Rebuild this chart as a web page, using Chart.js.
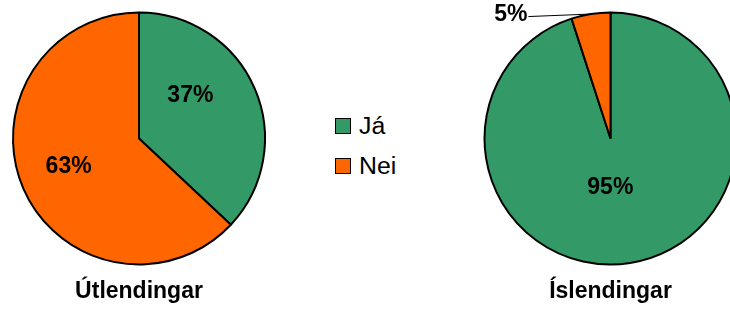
<!DOCTYPE html>
<html>
<head>
<meta charset="utf-8">
<script src="https://cdn.jsdelivr.net/npm/chart.js@4/dist/chart.umd.min.js"></script>
<style>
    html, body { margin: 0; padding: 0; background: #fff; overflow: hidden; width: 730px; height: 311px; }
    #wrap { position: relative; width: 730px; height: 311px; }
    canvas { position: absolute; top: 0; }
    #leftChart { left: 0; }
    #rightChart { left: 482px; }
    #legend { position: absolute; left: 335px; top: 116px; font-family: "Liberation Sans", Arial, sans-serif; font-size: 23px; color: #000; }
    .row { display: flex; align-items: center; height: 20px; line-height: 20px; margin-bottom: 20px; }
    .box { width: 14px; height: 14px; border: 1px solid #000; }
    .txt { margin-left: 8px; white-space: nowrap; display: inline-block; transform: scaleX(1.08); transform-origin: left center; }
</style>
</head>
<body>
<div id="wrap">
    <canvas id="leftChart" width="287" height="311"></canvas>
    <canvas id="rightChart" width="273" height="311"></canvas>
    <div id="legend"></div>
</div>
<script>
// answer categories
var answerLabels = ['Já', 'Nei'];
// one pie per group
var groupTitles = ['Útlendingar', 'Íslendingar'];
var foreignValues = [37, 63];
var icelandicValues = [95, 5];
var sliceColors = ['#339966', '#FF6600'];

// shift of each percentage label from its default spot (px)
var foreignLabelNudge = [[-18, -13], [-1, -2]];
var icelandicLabelNudge = [[-12, -26], [-80, 1]];

var FONT = '"Liberation Sans", Arial, sans-serif';

// draws the "37%" style labels, small slices get an outside label with a leader line
var pctLabels = {
    id: 'pctLabels',
    afterDatasetsDraw: function (chart) {
        var ctx = chart.ctx;
        var ds = chart.data.datasets[0];
        var total = ds.data.reduce(function (a, b) { return a + b; }, 0);
        var nudge = chart.options.plugins.pctLabels.nudge;
        chart.getDatasetMeta(0).data.forEach(function (arc, i) {
            var p = arc.getProps(['x', 'y', 'startAngle', 'endAngle', 'outerRadius'], true);
            var mid = (p.startAngle + p.endAngle) / 2;
            var pct = Math.round(ds.data[i] / total * 100);
            var text = pct + '%';
            ctx.save();
            ctx.font = 'bold 23px ' + FONT;
            ctx.fillStyle = '#000';
            ctx.textAlign = 'center';
            ctx.textBaseline = 'middle';
            if (pct < 10) {
                var ex = p.x + Math.cos(mid) * p.outerRadius;
                var ey = p.y + Math.sin(mid) * p.outerRadius;
                var lx = ex + nudge[i][0];
                var ly = ey + nudge[i][1];
                var w = ctx.measureText(text).width;
                ctx.strokeStyle = '#000';
                ctx.lineWidth = 1;
                ctx.beginPath();
                ctx.moveTo(lx + w / 2 + 1, ly + 1.5);
                ctx.lineTo(ex, ey);
                ctx.stroke();
                ctx.fillText(text, lx, ly);
            } else {
                var r = p.outerRadius * 0.6;
                ctx.fillText(text, p.x + Math.cos(mid) * r + nudge[i][0], p.y + Math.sin(mid) * r + nudge[i][1]);
            }
            ctx.restore();
        });
    }
};

function makePie(canvasId, values, title, nudge, padLeft, padRight) {
    var ctx = document.getElementById(canvasId).getContext('2d');
    return new Chart(ctx, {
        type: 'pie',
        data: {
            labels: answerLabels,
            datasets: [{
                data: values,
                backgroundColor: sliceColors,
                borderColor: '#000',
                borderWidth: 2,
                radius: 126
            }]
        },
        options: {
            responsive: false,
            animation: false,
            layout: { padding: { left: padLeft, right: padRight, top: 0, bottom: 0 } },
            plugins: {
                legend: { display: false },
                tooltip: { enabled: false },
                title: {
                    display: true,
                    text: title,
                    position: 'bottom',
                    color: '#000',
                    font: { family: FONT, size: 23, weight: 'bold', lineHeight: 1.2 },
                    padding: { top: 0.7, bottom: 5.7 }
                },
                pctLabels: { nudge: nudge }
            }
        },
        plugins: [pctLabels]
    });
}

makePie('leftChart', foreignValues, groupTitles[0], foreignLabelNudge, 0, 9);
makePie('rightChart', icelandicValues, groupTitles[1], icelandicLabelNudge, 1, 17);

// legend built from the same categories and colours
var legend = document.getElementById('legend');
answerLabels.forEach(function (lab, i) {
    var row = document.createElement('div');
    row.className = 'row';
    row.innerHTML = '<div class="box" style="background:' + sliceColors[i] + '"></div><span class="txt">' + lab + '</span>';
    legend.appendChild(row);
});
</script>
</body>
</html>
